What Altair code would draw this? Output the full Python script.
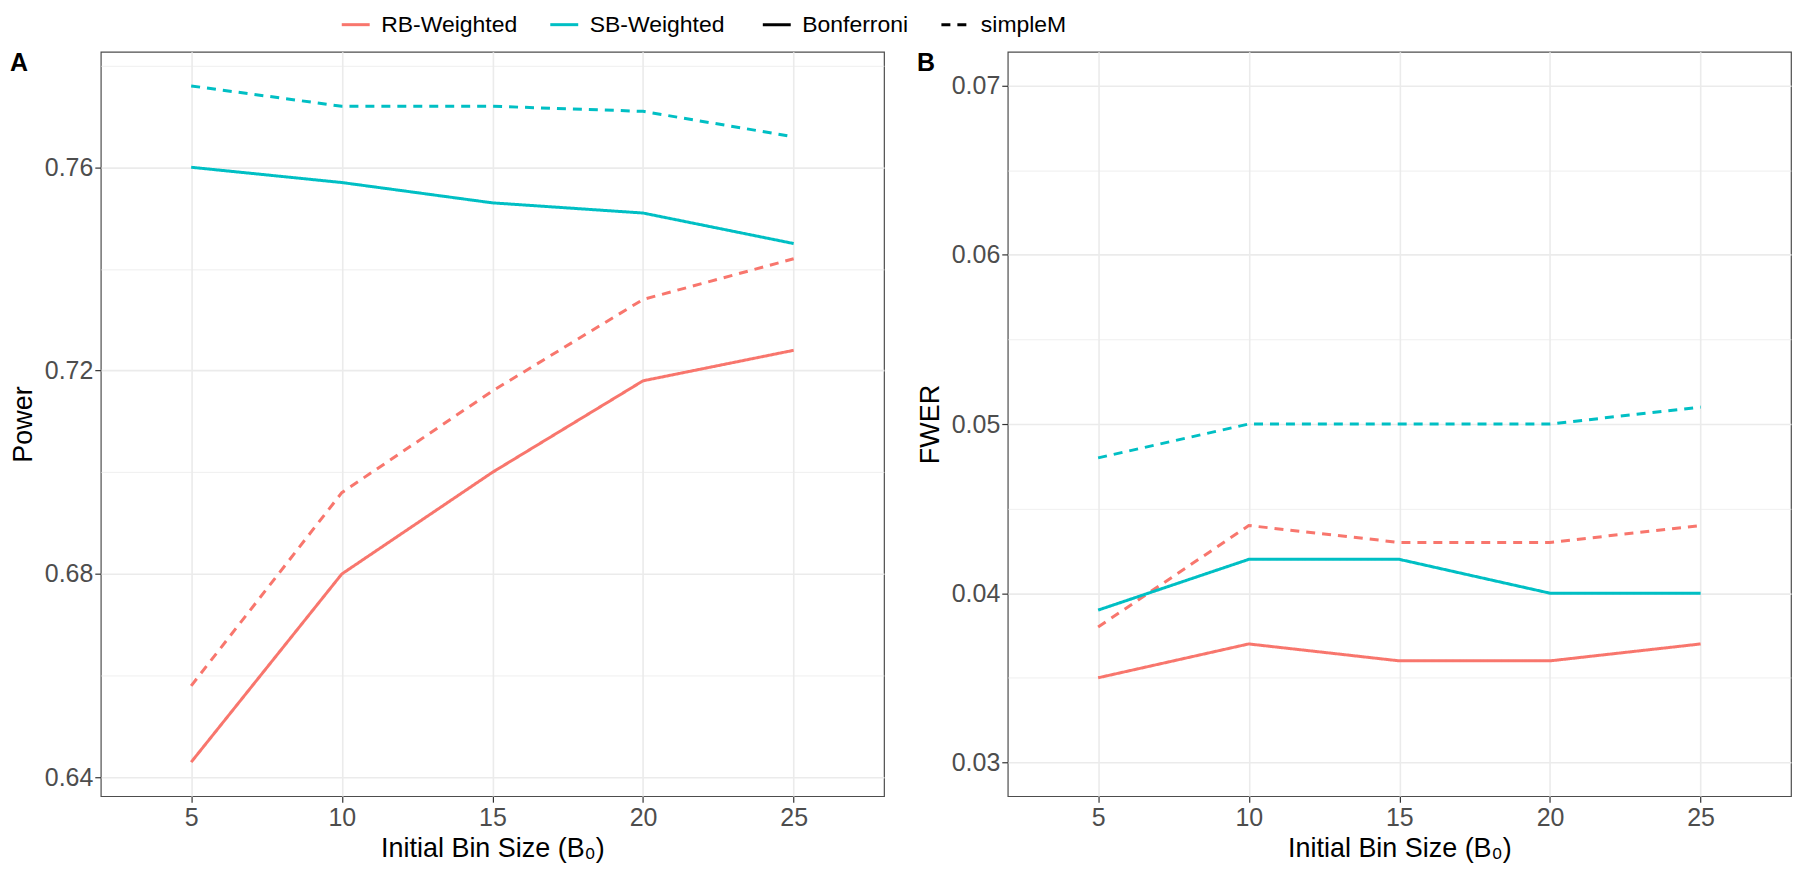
import altair as alt
import pandas as pd

# ---------------- data ----------------
bin_sizes = [5, 10, 15, 20, 25]
methods = ["RB-Weighted", "SB-Weighted"]
corrections = ["Bonferroni", "simpleM"]

power_rb_bonferroni = [0.643, 0.680, 0.700, 0.718, 0.724]
power_rb_simplem = [0.658, 0.696, 0.716, 0.734, 0.742]
power_sb_bonferroni = [0.760, 0.757, 0.753, 0.751, 0.745]
power_sb_simplem = [0.776, 0.772, 0.772, 0.771, 0.766]

fwer_rb_bonferroni = [0.035, 0.037, 0.036, 0.036, 0.037]
fwer_rb_simplem = [0.038, 0.044, 0.043, 0.043, 0.044]
fwer_sb_bonferroni = [0.039, 0.042, 0.042, 0.040, 0.040]
fwer_sb_simplem = [0.048, 0.050, 0.050, 0.050, 0.051]

x_ticks = [5, 10, 15, 20, 25]
power_ticks = [0.64, 0.66, 0.68, 0.70, 0.72, 0.74, 0.76, 0.78]
fwer_ticks = [0.030, 0.035, 0.040, 0.045, 0.050, 0.055, 0.060, 0.065, 0.070]
panel_labels = ["A", "B"]
y_titles = ["Power", "FWER"]
x_title = "Initial Bin Size (B\u2080)"

colors = ["#F8766D", "#00BFC4"]
FONT = "Liberation Sans"


def long_table(series):
    rows = []
    for (method, corr), vals in series.items():
        for b, v in zip(bin_sizes, vals):
            rows.append({"bin": b, "value": v, "method": method, "correction": corr})
    return pd.DataFrame(rows)


power_df = long_table({
    ("RB-Weighted", "Bonferroni"): power_rb_bonferroni,
    ("RB-Weighted", "simpleM"): power_rb_simplem,
    ("SB-Weighted", "Bonferroni"): power_sb_bonferroni,
    ("SB-Weighted", "simpleM"): power_sb_simplem,
})
fwer_df = long_table({
    ("RB-Weighted", "Bonferroni"): fwer_rb_bonferroni,
    ("RB-Weighted", "simpleM"): fwer_rb_simplem,
    ("SB-Weighted", "Bonferroni"): fwer_sb_bonferroni,
    ("SB-Weighted", "simpleM"): fwer_sb_simplem,
})

W, H = 785, 746

color_legend = alt.Legend(title=None, orient="none", direction="horizontal",
                          legendX=240, legendY=-43)
dash_legend = alt.Legend(title=None, orient="none", direction="horizontal",
                         legendX=662, legendY=-43, symbolStrokeColor="#000000")


def panel(df, label, ytitle, ydomain, yticks, major_test):
    x = alt.X("bin:Q",
              scale=alt.Scale(domain=[2, 28], nice=False, zero=False),
              axis=alt.Axis(values=x_ticks, title=x_title, labelAngle=0,
                            format="d", gridWidth=1.6))
    y = alt.Y("value:Q",
              scale=alt.Scale(domain=ydomain, nice=False, zero=False),
              axis=alt.Axis(values=yticks, title=ytitle, format=".2f",
                            labelExpr=f"({major_test}) ? datum.label : ''",
                            gridWidth={"condition": {"test": major_test, "value": 1.6}, "value": 0.8},
                            tickOpacity={"condition": {"test": major_test, "value": 1}, "value": 0}))
    color = alt.Color("method:N", scale=alt.Scale(domain=methods, range=colors),
                      legend=color_legend)
    dash = alt.StrokeDash("correction:N",
                          scale=alt.Scale(domain=corrections, range=[[1, 0], [9, 7]]),
                          legend=dash_legend)
    lines = alt.Chart(df).mark_line(strokeWidth=3).encode(
        x=x, y=y, color=color, strokeDash=dash, order="bin:Q")
    lab = alt.Chart(pd.DataFrame({"label": [label]})).mark_text(
        align="left", baseline="alphabetic", font=FONT, fontSize=25,
        fontWeight="bold", color="black").encode(
        x=alt.value(-91), y=alt.value(19), text="label:N")
    return alt.layer(lines, lab).properties(width=W, height=H)


pa = panel(power_df, panel_labels[0], y_titles[0], [0.6363, 0.7827], power_ticks,
           "round(datum.value * 100) % 4 == 0")
pb = panel(fwer_df, panel_labels[1], y_titles[1], [0.028, 0.072], fwer_ticks,
           "round(datum.value * 1000) % 10 == 0")

chart = alt.hconcat(pa, pb, spacing=30).resolve_scale(
    color="shared", strokeDash="shared"
).properties(padding=0).configure_view(
    stroke="#4D4D4D", strokeWidth=1.2
).configure_axis(
    labelFont=FONT, labelFontSize=25, labelColor="#4D4D4D",
    titleFont=FONT, titleFontSize=27, titleFontWeight="normal", titleColor="#000000",
    tickColor="#333333", tickSize=6, tickWidth=1.2, domain=False,
    gridColor="#EBEBEB", labelPadding=2
).configure_axisX(titlePadding=5, labelPadding=3).configure_axisY(titlePadding=7).configure_legend(
    labelFont=FONT, labelFontSize=23, labelColor="#000000",
    symbolType="stroke", symbolSize=784, symbolStrokeWidth=3,
    labelOffset=10, padding=0, columnPadding=26, labelLimit=400
)

chart.save("out.html", embed_options={"renderer": "svg", "actions": False})
